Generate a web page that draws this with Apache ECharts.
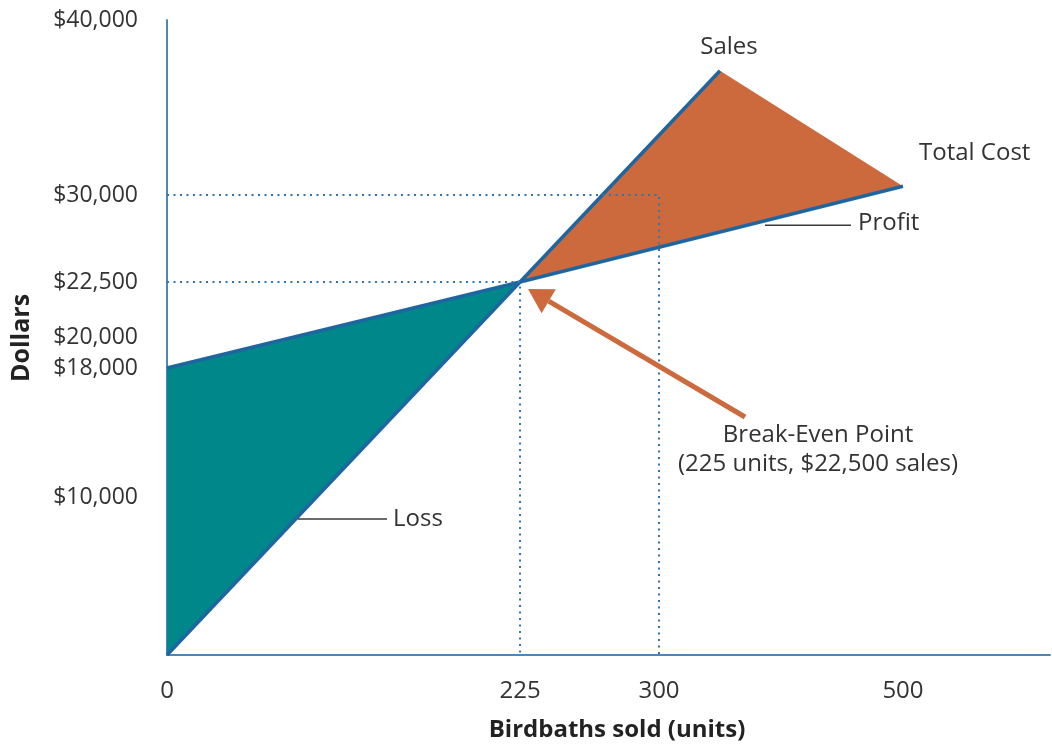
<!DOCTYPE html>
<html><head><meta charset="utf-8">
<script src="https://cdn.jsdelivr.net/npm/echarts@6/dist/echarts.min.js"></script>
<style>html,body{margin:0;padding:0;background:#fff}#c{width:1052px;height:745px}</style>
</head><body><div id="c"></div>
<script>
// ---- data ----
const xTickValues = [0, 225, 300, 500];
const yTickValues = [10000, 18000, 20000, 22500, 30000, 40000];
const salesUnits = [0, 225, 350];
const salesDollars = [0, 22500, 37100];
const costUnits = [0, 225, 500];
const costDollars = [18000, 22500, 30500];
const breakEvenUnits = 225;
const breakEvenDollars = 22500;
const refUnits = 300;
const refDollars = 30000;

// ---- schematic (not to scale) axes: piecewise-linear scale anchors ----
const xScaleReal = [0, 225, 300, 500, 620];
const xScaleFrac = [0, 0.3998, 0.5572, 0.8335, 1];
const yScaleReal = [0, 10000, 18000, 20000, 22500, 30000, 40000];
const yScaleFrac = [0, 0.2488, 0.4520, 0.5008, 0.5874, 0.7244, 1];

function warp(v, R, F) {
  for (let i = 0; i < R.length - 1; i++) {
    if (v <= R[i + 1] || i === R.length - 2) {
      return F[i] + (v - R[i]) / (R[i + 1] - R[i]) * (F[i + 1] - F[i]);
    }
  }
}
const wx = v => warp(v, xScaleReal, xScaleFrac);
const wy = v => warp(v, yScaleReal, yScaleFrac);
const pt = (u, d) => [wx(u), wy(d)];
function unwarpLabel(v, ticks, w, fmt) {
  for (const t of ticks) if (Math.abs(w(t) - v) < 1e-6) return fmt(t);
  return '';
}

const FONT = 'Open Sans';
const TXT = '#333333';
const LINE_BLUE = '#1d66a0';
const TEAL = '#00878a';
const ORANGE = '#cd6a3d';
const DOT_BLUE = '#2f74b0';

const salesPts = salesUnits.map((u, i) => pt(u, salesDollars[i]));
const costPts = costUnits.map((u, i) => pt(u, costDollars[i]));
const bePt = pt(breakEvenUnits, breakEvenDollars);
const lossPoly = [costPts[0], bePt, salesPts[0]];
const profitPoly = [bePt, salesPts[salesPts.length - 1], costPts[costPts.length - 1]];

function polySeries(poly, color) {
  return {
    type: 'custom', z: 1, silent: true, clip: false,
    data: [[0, 0]],
    renderItem: (params, api) => ({
      type: 'polygon',
      shape: { points: poly.map(p => api.coord(p)) },
      style: { fill: color }
    })
  };
}

const chart = echarts.init(document.getElementById('c'), null, { renderer: 'canvas' });
chart.setOption({
  animation: false,
  backgroundColor: '#ffffff',
  grid: { left: 167, right: 2, top: 20, bottom: 90, containLabel: false },
  xAxis: {
    type: 'value', min: 0, max: 1,
    axisLine: { show: true, lineStyle: { color: '#4f86b8', width: 2 } },
    axisTick: { show: false },
    splitLine: { show: false },
    axisLabel: {
      customValues: xTickValues.map(wx),
      formatter: v => unwarpLabel(v, xTickValues, wx, t => String(t)),
      margin: 24, fontSize: 24, color: TXT, fontFamily: FONT
    }
  },
  yAxis: {
    type: 'value', min: 0, max: 1,
    axisLine: { show: true, lineStyle: { color: '#4f86b8', width: 2 } },
    axisTick: { show: false },
    splitLine: { show: false },
    axisLabel: {
      customValues: yTickValues.map(wy),
      formatter: v => unwarpLabel(v, yTickValues, wy, t => '$' + t.toLocaleString('en-US')),
      margin: 29, fontSize: 23, color: TXT, fontFamily: FONT
    }
  },
  series: [
    polySeries(lossPoly, TEAL),
    polySeries(profitPoly, ORANGE),
    {
      type: 'line', name: 'Sales', z: 3, symbol: 'none', data: salesPts,
      lineStyle: { color: LINE_BLUE, width: 3.5 }
    },
    {
      type: 'line', name: 'Total Cost', z: 3, symbol: 'none', data: costPts,
      lineStyle: { color: LINE_BLUE, width: 3.5 }
    },
    {
      type: 'line', z: 4, symbol: 'none',
      data: [pt(0, refDollars), pt(refUnits, refDollars), pt(refUnits, 0)],
      lineStyle: { color: DOT_BLUE, width: 2, type: [2, 4.5] }
    },
    {
      type: 'line', z: 4, symbol: 'none',
      data: [pt(0, breakEvenDollars), pt(breakEvenUnits, breakEvenDollars), pt(breakEvenUnits, 0)],
      lineStyle: { color: DOT_BLUE, width: 2, type: [2, 4.5] }
    }
  ]
});

// ---- annotations, anchored to data points ----
const px = p => chart.convertToPixel({ xAxisIndex: 0, yAxisIndex: 0 }, p);
const S = px(salesPts[salesPts.length - 1]);
const C = px(costPts[costPts.length - 1]);
const B = px(bePt);
const O = px(salesPts[0]);
const txt = (x, y, s, align, extra) => Object.assign({
  type: 'text', x: x, y: y, z: 10,
  style: { text: s, fill: TXT, font: '24px "' + FONT + '"', align: align || 'left', verticalAlign: 'middle' }
}, extra || {});
const seg = (x1, y1, x2, y2, color, w) => ({
  type: 'line', z: 10, shape: { x1, y1, x2, y2 },
  style: { stroke: color, lineWidth: w }
});

// arrow geometry
const tip = [B[0] + 8, B[1] + 7];
const tail = [B[0] + 225, B[1] + 135];
const dx = tail[0] - tip[0], dy = tail[1] - tip[1];
const L = Math.hypot(dx, dy), ux = dx / L, uy = dy / L;
const headLen = 24, headHalf = 14;
const base = [tip[0] + ux * headLen, tip[1] + uy * headLen];
const nx = -uy, ny = ux;

chart.setOption({
  graphic: [
    txt(S[0] + 9, S[1] - 24, 'Sales', 'center'),
    txt(C[0] + 16, C[1] - 33, 'Total Cost', 'left'),
    seg(C[0] - 138, C[1] + 39, C[0] - 52, C[1] + 39, '#3a3a3a', 1.5),
    txt(C[0] - 45, C[1] + 37, 'Profit', 'left'),
    seg(O[0] + 131, O[1] - 136, O[0] + 220, O[1] - 136, '#3a3a3a', 1.5),
    txt(O[0] + 226, O[1] - 136, 'Loss', 'left'),
    seg(tail[0], tail[1], base[0], base[1], ORANGE, 5),
    {
      type: 'polygon', z: 10,
      shape: { points: [tip, [base[0] + nx * headHalf, base[1] + ny * headHalf], [base[0] - nx * headHalf, base[1] - ny * headHalf]] },
      style: { fill: ORANGE }
    },
    txt(B[0] + 298, B[1] + 153, 'Break-Even Point', 'center'),
    txt(B[0] + 298, B[1] + 182, '(225 units, $22,500 sales)', 'center'),
    {
      type: 'text', x: 617, y: 730, z: 10,
      style: { text: 'Birdbaths sold (units)', fill: '#222', font: 'bold 24px "' + FONT + '"', align: 'center', verticalAlign: 'middle' }
    },
    {
      type: 'text', x: 22, y: 338, z: 10, rotation: Math.PI / 2,
      style: { text: 'Dollars', fill: '#222', font: 'bold 25px "' + FONT + '"', align: 'center', verticalAlign: 'middle' }
    }
  ]
});
</script>
</body></html>
